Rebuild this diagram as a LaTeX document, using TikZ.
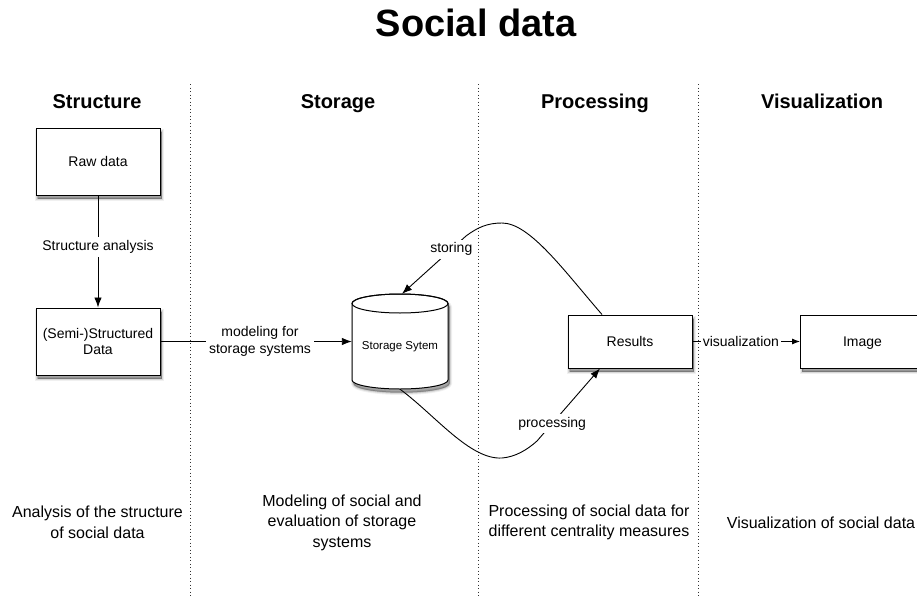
\documentclass[tikz,border=0pt]{standalone}
\usepackage{fontspec}
\setmainfont{Liberation Sans}
\usetikzlibrary{arrows.meta}
\begin{document}
\begin{tikzpicture}[x=1pt,y=-1pt,
  every node/.style={font=\fontsize{14}{16.5}\selectfont},
  shad/.style={
    preaction={draw=black, fill=black, line width=5pt, opacity=0.06, transform canvas={xshift=1.5pt,yshift=-3.5pt}},
    preaction={draw=black, fill=black, line width=3pt, opacity=0.1, transform canvas={xshift=1.5pt,yshift=-3.5pt}},
    preaction={draw=black, fill=black, line width=1pt, opacity=0.18, transform canvas={xshift=1.5pt,yshift=-3.5pt}}},
  box/.style={draw, line width=1pt, fill=white, minimum width=124pt, align=center, shad},
  conn/.style={line width=0.9pt, -{Latex[length=10pt,width=7.5pt]}},
  lbl/.style={fill=white, inner sep=3pt, align=center},
  sep/.style={line width=1pt, dash pattern=on 1pt off 2.5pt, black!80},
  head/.style={font=\bfseries\fontsize{20}{24}\selectfont, anchor=base},
  desc/.style={font=\fontsize{16}{20.5}\selectfont, align=center}]
\useasboundingbox (0,0) rectangle (917,602);

% title and headers
\node[font=\bfseries\fontsize{38}{40}\selectfont, anchor=base] (title) at (476,37) {Social data};
\node[head] (h1) at (97,108) {Structure};
\node[head] (h2) at (338,108) {Storage};
\node[head] (h3) at (595,108) {Processing};
\node[head] (h4) at (822,108) {Visualization};

% separators
\draw[sep] (190,84) -- (190,598);
\draw[sep] (478,84) -- (478,598);
\draw[sep] (698,84) -- (698,598);

% boxes
\node[box, minimum height=67pt] (raw) at (98,161.5) {Raw data};
\node[box, minimum height=67pt] (semi) at (98,341.5) {(Semi-)Structured\\Data};
\node[box, minimum height=53pt] (res) at (630,341.5) {Results};
\node[box, minimum height=53pt, text depth=0pt] (img) at (862.5,341.5) {Image};

% cylinder
\node[minimum width=96pt, minimum height=95pt, inner sep=0pt] (store) at (400,341.5) {};
\draw[line width=1pt, fill=white, shad] (352,303.5) -- (352,380) arc[start angle=180,end angle=0,x radius=48,y radius=9] -- (448,303.5) arc[start angle=0,end angle=-180,x radius=48,y radius=9.5] -- cycle;
\draw[line width=1pt] (400,303.5) ellipse[x radius=48, y radius=9.5];
\node[font=\fontsize{11.5}{13}\selectfont] (storetext) at (400,347) {Storage Sytem};

% connectors
\draw[conn] (raw.south) -- node[lbl, pos=0.46] {Structure analysis} (semi.north);
\draw[conn] (semi.east) -- node[lbl, pos=0.52] {modeling for\\storage systems} (store.west);
\draw[line width=0.9pt, -{Latex[length=8pt,width=6pt]}] (res.east) -- node[fill=white, inner sep=2pt, pos=0.45] {visualization} (img.west);
\draw[conn] ([xshift=-28pt]res.north) .. controls (565,272) and (530,223) .. (502,223)
   .. controls (488,223) and (478,227) .. (466,236)
   -- node[lbl, pos=0.23] {storing} ([xshift=2pt]store.north);
\draw[conn] (store.south) .. controls (435,415) and (470,460) .. (502,458)
   .. controls (515,457) and (527,450) .. (537,441)
   -- node[lbl, pos=0.24] {processing} ([xshift=-30pt]res.south);

% descriptions
\node[desc] (d1) at (97.5,522.5) {Analysis of the structure\\of social data};
\node[desc] (d2) at (342,522.5) {Modeling of social and\\evaluation of storage\\systems};
\node[desc] (d3) at (589,522.5) {Processing of social data for\\different centrality measures};
\node[desc] (d4) at (821,522.5) {Visualization of social data};
\end{tikzpicture}
\end{document}
